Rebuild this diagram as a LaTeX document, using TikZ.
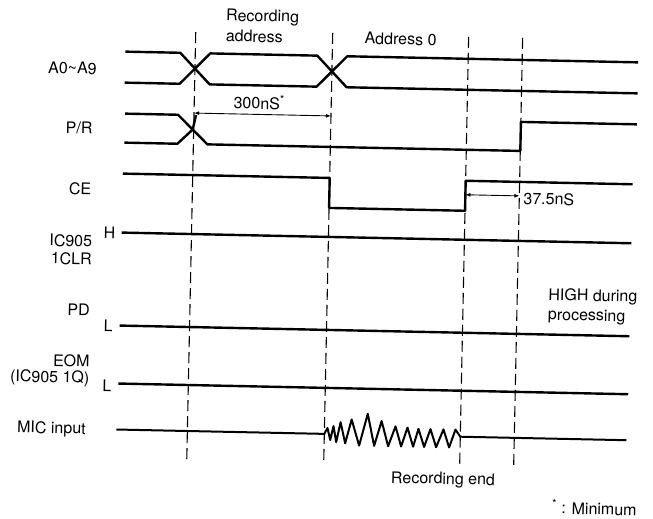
\documentclass[tikz,border=0pt]{standalone}
\usepackage{fontspec}
\setmainfont{TeX Gyre Heros}
\usetikzlibrary{arrows.meta}
\begin{document}
\begin{tikzpicture}[x=1pt,y=-1pt,
  sig/.style={line width=2.4pt, line join=round},
  guide/.style={line width=1.1pt, dash pattern=on 11pt off 5pt},
  dimline/.style={line width=0.9pt, {Latex[length=5pt,width=4pt]}-{Latex[length=5pt,width=4pt]}},
  lbl/.style={font=\fontsize{16}{18}\selectfont, inner sep=0pt},
]
\useasboundingbox (0,0) rectangle (653,519);
\begin{scope}[rotate around={-1.2:(380,260)}, transform shape]
% guide lines
\coordinate (d1t) at (191,36);  \coordinate (d1b) at (191,466);
\coordinate (d2t) at (328,34);  \coordinate (d2b) at (328,466);
\coordinate (d3t) at (464,35);  \coordinate (d3b) at (464,466);
\coordinate (d4t) at (518,35);  \coordinate (d4b) at (518,465);
\draw[guide] (d1t) -- (d1b);
\draw[guide] (d2t) -- (d2b);
\draw[guide] (d3t) -- (d3b);
\draw[guide] (d4t) -- (d4b);

% A0~A9
\draw[sig] (121,57) -- (176,57) -- (206,88) -- (313,88) -- (343,57) -- (634,57);
\draw[sig] (121,88) -- (176,88) -- (206,57) -- (313,57) -- (343,88) -- (634,88);
% P/R
\draw[sig] (122,119) -- (175,119) -- (205,148) -- (518,148) -- (518,119) -- (634,119);
\draw[sig] (122,148) -- (175,148) -- (190,133.5) -- (193,119);
% CE
\draw[sig] (121,179) -- (328,179) -- (328,209) -- (464,209) -- (464,179) -- (631,179);
% IC905 1CLR
\draw[sig] (121,238) -- (631,238);
% PD
\draw[sig] (121,331) -- (631,331);
% EOM
\draw[sig] (121,389) -- (631,389);
% MIC input
\draw[sig, line width=2pt] (120,435) -- (328,435)
  -- (331,429) -- (334,441) -- (337,427) -- (340,443) -- (344,423) -- (349,444)
  -- (355,420) -- (363,446) -- (371,414) -- (378,446) -- (385,421) -- (392,446)
  -- (399,426) -- (405,446) -- (411,427) -- (417,446) -- (422,428) -- (428,446)
  -- (434,428) -- (440,446) -- (447,428) -- (453,446) -- (459,428) -- (464,435)
  -- (630,435);

% dimension arrows
\coordinate (a1) at (191,117); \coordinate (a2) at (328,117);
\draw[dimline] (a1) -- (a2);
\coordinate (b1) at (464,193); \coordinate (b2) at (518,193);
\draw[dimline] (b1) -- (b2);

% labels
\node[lbl, anchor=west] (rec1) at (221,20) {Recording};
\node[lbl, anchor=west] (rec2) at (221,39) {address};
\node[lbl, anchor=west] (addr0) at (360,38.6) {Address 0};
\node[lbl, anchor=east] (la) at (93,74.5) {A0\textasciitilde A9};
\node[lbl, anchor=east] (lpr) at (90,134) {P/R};
\node[lbl] (t300) at (256,104.5) {300nS\textsuperscript{*}};
\node[lbl, anchor=east] (lce) at (90,195) {CE};
\node[lbl, anchor=west] (t375) at (522,195.4) {37.5nS};
\node[lbl, anchor=east] (lic1) at (92,247) {IC905};
\node[lbl, anchor=east] (lic2) at (92,265) {1CLR};
\node[lbl] (lh) at (109,238) {H};
\node[lbl, anchor=east] (lpd) at (91,316) {PD};
\node[lbl] (ll1) at (109.5,331.7) {L};
\node[lbl, anchor=west] (high1) at (549,292.5) {HIGH during};
\node[lbl, anchor=west] (high2) at (549,312.5) {processing};
\node[lbl, anchor=east] (leom1) at (92,367) {EOM};
\node[lbl, anchor=east] (leom2) at (92,385) {(IC905 1Q)};
\node[lbl] (ll2) at (109.7,391.7) {L};
\node[lbl, anchor=east] (lmic) at (89.5,436) {MIC input};
\node[lbl] (recend) at (447.6,478.7) {Recording end};
\node[lbl, anchor=east] (minnote) at (642,503) {\textsuperscript{*} : Minimum};
\end{scope}
\end{tikzpicture}
\end{document}
